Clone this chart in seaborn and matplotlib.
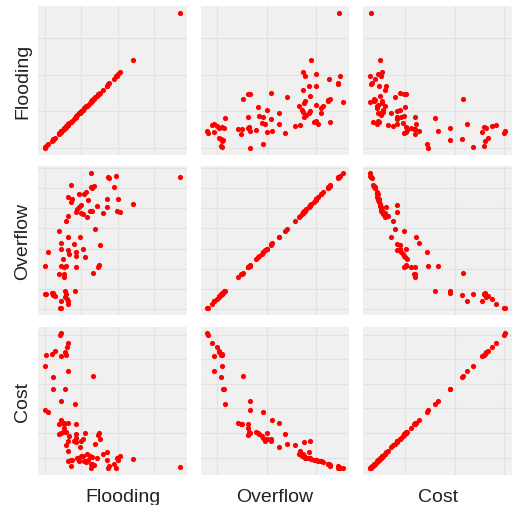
import matplotlib
matplotlib.use("Agg")
import pandas as pd
import matplotlib.pyplot as plt
import seaborn as sns
from matplotlib.ticker import MultipleLocator

# values (relative scale 0-100, no tick labels shown)
flooding = [100, 33.9, 46.9, 47.9, 53.1, 19.2, 34.5, 36.5, 35.2, 51.3,
            30.6, 29.3, 25.4, 17.6, 20.2, 19.4, 31.9, 46.1, 54.4, 65.3,
            27.2, 25.4, 24.1, 38.6, 46.1, 22.8, 26.7, 28.0, 33.2, 34.7,
            43.0, 53.4, 56.0, 31.1, 17.1,
            16.1, 37.3, 10.9, 17.6, 25.9, 12.4, 21.5, 11.9, 40.9, 28.0,
            17.6, 22.8, 18.1, 23.3, 2.8, 30.1, 13.2, 0.0, 12.4, 14.5,
            15.5, 22.8, 39.9, 39.6, 10.4, 14.0, 14.2, 35.8,
            12.4, 11.1, 17.1, 17.6, 16.3, 11.7, 15.0, 7.3, 6.2, 5.2,
            6.0, 1.0, 0.5, 15.5, 15.0, 22.3]
overflow = [97.4, 100, 96.8, 96.3, 97.9, 91.0, 89.4, 90.5, 88.9, 89.7,
            85.8, 84.2, 84.2, 82.1, 80.5, 78.9, 80.2, 80.7, 80.7, 77.0,
            76.3, 75.2, 73.1, 75.7, 74.9, 71.2, 70.4, 69.9, 71.8, 72.3,
            70.4, 72.3, 71.0, 67.8, 68.6,
            64.6, 58.8, 57.3, 52.8, 52.8, 48.0, 47.2, 44.1, 46.7, 44.1,
            42.7, 41.4, 40.1, 38.3, 41.4, 37.5, 36.1, 31.4, 31.4, 30.3,
            30.9, 30.3, 31.7, 30.3, 25.1, 25.6, 23.0, 26.1,
            0.0, 0.3, 3.2, 5.0, 7.1, 5.0, 8.4, 8.7, 9.8, 11.1,
            11.5, 10.3, 10.6, 10.8, 12.4, 12.9]
cost = [1, 0, 0.5, 1.5, 0, 2.1, 3, 2.7, 3.5, 3.4,
        4.8, 5.3, 5.5, 5.3, 5.9, 6.5, 6, 6.5, 6, 7,
        20.1, 7.8, 8, 7.5, 12, 19.8, 9.4, 9.4, 9, 8.5,
        11, 8, 9, 10.7, 13,
        17.1, 18.4, 25.4, 33.7, 15.8, 36.1, 20, 26.2, 21.9, 21.9,
        20.1, 22.7, 24.1, 25.4, 42, 26, 27, 43, 50, 30,
        26.7, 33.2, 26.5, 25, 33, 32.6, 33.4, 68.7,
        100, 99, 93, 72, 90, 83, 86, 87, 68, 85,
        59, 84, 76, 84, 59, 48]

variables = ["Flooding", "Overflow", "Cost"]

# gridline spacing per variable: (x step, x offset, y step, y offset)
grid_steps = {
    "Flooding": (27, 0, 27, 0),
    "Overflow": (36.7, 7.2, 15, 14),
    "Cost": (36.5, 26, 18.2, 8),
}


def build_frame():
    return pd.DataFrame({"Flooding": flooding, "Overflow": overflow, "Cost": cost})


def plot_matrix(data):
    sns.set_style("white", {"axes.facecolor": "#f0f0f0", "grid.color": "#e2e2e2"})
    plt.rcParams["font.family"] = ["Liberation Sans", "DejaVu Sans"]

    g = sns.PairGrid(data, vars=variables, height=1.7, despine=False)
    g.map(sns.scatterplot, color="red", s=14, linewidth=0)

    for i, yv in enumerate(variables):
        for j, xv in enumerate(variables):
            ax = g.axes[i, j]
            xs, xo, _, _ = grid_steps[xv]
            _, _, ys, yo = grid_steps[yv]
            ax.xaxis.set_major_locator(MultipleLocator(xs, xo))
            ax.yaxis.set_major_locator(MultipleLocator(ys, yo))
            ax.grid(True, color="#e2e2e2", linewidth=0.9)
            ax.set_axisbelow(True)
            for sp in ax.spines.values():
                sp.set_visible(False)
            ax.tick_params(labelbottom=False, labelleft=False, length=0)
            ax.set_xlabel("")
            ax.set_ylabel("")

    # axis titles only on the outer panels
    for k, var in enumerate(variables):
        g.axes[k, 0].set_ylabel(var, fontsize=14, color="#222222", labelpad=5)
        g.axes[-1, k].set_xlabel(var, fontsize=14, color="#222222", labelpad=9)
    # the reference has the first column title sitting a bit right of centre
    g.axes[-1, 0].xaxis.label.set_x(0.57)

    fig = g.figure
    fig.set_size_inches(5.13, 5.06)
    fig.subplots_adjust(left=0.074, right=0.998, bottom=0.059, top=0.986,
                        wspace=0.095, hspace=0.08)
    fig.savefig("out.png", dpi=100, facecolor="white")


plot_matrix(build_frame())
